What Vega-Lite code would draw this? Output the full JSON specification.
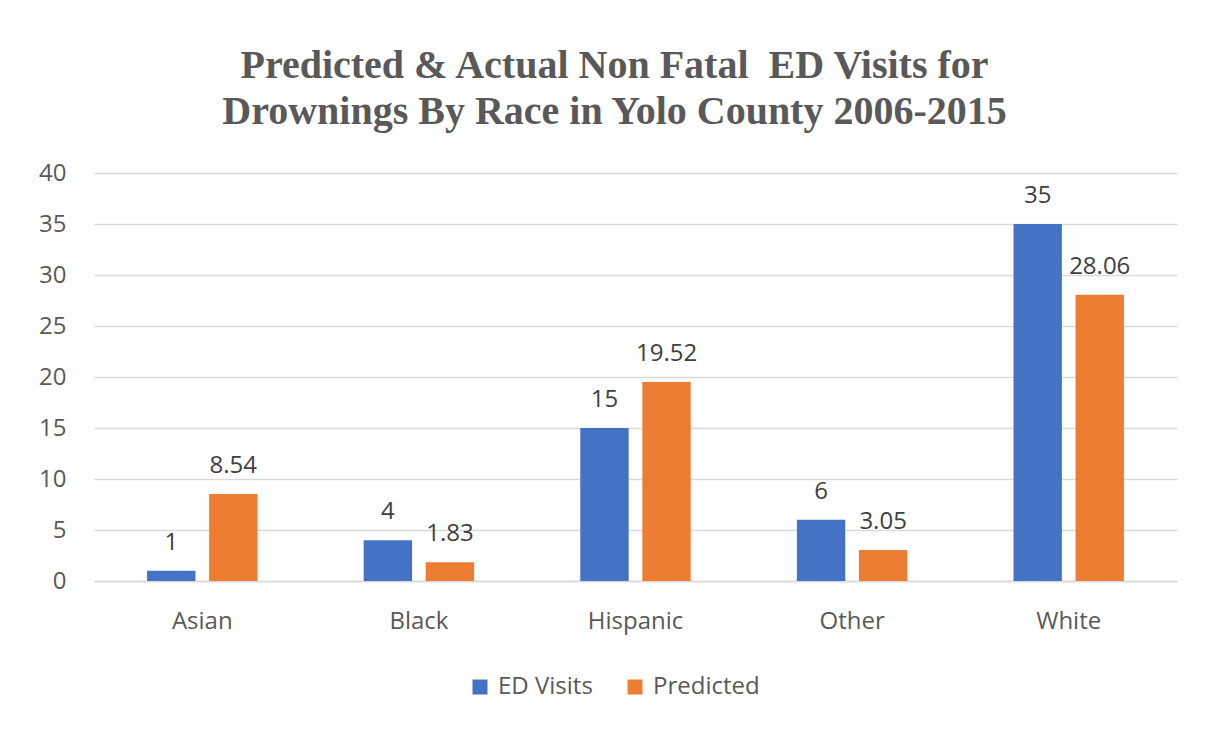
{
  "$schema": "https://vega.github.io/schema/vega-lite/v6.json",
  "width": 1083,
  "height": 408,
  "autosize": "none",
  "padding": {"left": 94, "top": 173, "right": 55, "bottom": 156},
  "background": "#ffffff",
  "title": {
    "text": ["Predicted & Actual Non Fatal \u00a0ED Visits for", "Drownings By Race in Yolo County 2006-2015"],
    "font": "Liberation Serif",
    "fontSize": 40,
    "fontWeight": "bold",
    "color": "#595959",
    "anchor": "middle",
    "lineHeight": 46,
    "offset": 29,
    "dx": -21
  },
  "data": {
    "values": [
      {"race": "Asian", "series": "ED Visits", "value": 1},
      {"race": "Asian", "series": "Predicted", "value": 8.54},
      {"race": "Black", "series": "ED Visits", "value": 4},
      {"race": "Black", "series": "Predicted", "value": 1.83},
      {"race": "Hispanic", "series": "ED Visits", "value": 15},
      {"race": "Hispanic", "series": "Predicted", "value": 19.52},
      {"race": "Other", "series": "ED Visits", "value": 6},
      {"race": "Other", "series": "Predicted", "value": 3.05},
      {"race": "White", "series": "ED Visits", "value": 35},
      {"race": "White", "series": "Predicted", "value": 28.06}
    ]
  },
  "encoding": {
    "x": {
      "field": "race", "type": "nominal", "title": null,
      "scale": {"paddingInner": 0.49, "paddingOuter": 0.245},
      "axis": {"labelAngle": 0, "labelFont": "Open Sans", "labelFontSize": 24, "labelColor": "#595959", "ticks": false, "domain": true, "domainColor": "#d9d9d9", "domainWidth": 1.5, "labelPadding": 28, "grid": false}
    },
    "xOffset": {"field": "series", "type": "nominal", "scale": {"paddingInner": 0.22, "paddingOuter": 0}},
    "y": {
      "field": "value", "type": "quantitative", "title": null,
      "scale": {"domain": [0, 40], "nice": false},
      "axis": {"values": [0, 5, 10, 15, 20, 25, 30, 35, 40], "labelFont": "Open Sans", "labelFontSize": 24, "labelColor": "#595959", "ticks": false, "domain": false, "gridColor": "#d9d9d9", "gridWidth": 1.5, "labelPadding": 28}
    }
  },
  "layer": [
    {
      "mark": {"type": "bar"},
      "encoding": {
        "color": {
          "field": "series", "type": "nominal",
          "scale": {"domain": ["ED Visits", "Predicted"], "range": ["#4472C4", "#ED7D31"]},
          "legend": {
            "title": null, "orient": "none", "direction": "horizontal",
            "legendX": 374, "legendY": 502,
            "symbolType": "square", "symbolSize": 225, "symbolStrokeWidth": 0,
            "labelFont": "Open Sans", "labelFontSize": 24, "labelColor": "#595959",
            "labelOffset": 6, "columnPadding": 30
          }
        }
      }
    },
    {
      "mark": {"type": "text", "baseline": "alphabetic", "dy": -21, "font": "Open Sans", "fontSize": 24, "color": "#404040"},
      "encoding": {"text": {"field": "value", "type": "quantitative"}}
    }
  ],
  "config": {"view": {"stroke": null}}
}
